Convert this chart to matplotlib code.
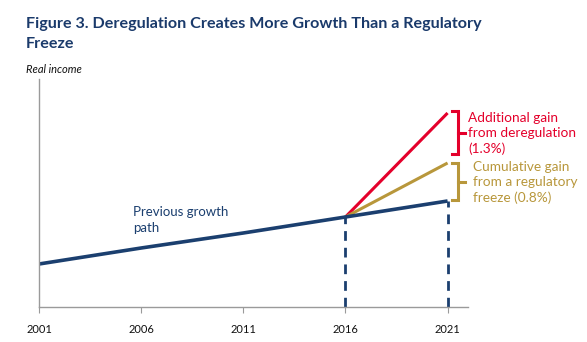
import matplotlib.pyplot as plt

plt.rcParams['font.family'] = ['Lato', 'DejaVu Sans']

# Index values (arbitrary units of real income)
years = [2001, 2006, 2011, 2016, 2021]
previous_path = [43, 59, 74, 90, 106]
freeze_years = [2016, 2021]
freeze_path = [90, 144]
dereg_years = [2016, 2021]
dereg_path = [90, 194]
tick_labels = ['2001', '2006', '2011', '2016', '2021']

navy = '#1b3f6f'
red = '#e4002b'
gold = '#b8973b'
grey = '#9a9a9a'

fig = plt.figure(figsize=(5.87, 3.42), dpi=100)
ax = fig.add_axes([39 / 587, 35 / 342, 429 / 587, 228 / 342])

ax.plot(dereg_years, dereg_path, color=red, lw=2.2, solid_capstyle='butt')
ax.plot(freeze_years, freeze_path, color=gold, lw=2.2, solid_capstyle='butt')
ax.plot(years, previous_path, color=navy, lw=2.6, solid_capstyle='butt')

# dashed drop lines
for yr, val in [(2016, previous_path[3]), (2021, previous_path[4])]:
    ax.plot([yr, yr], [0, val], color=navy, lw=2, ls=(0, (3.5, 2.5)))

ax.set_xlim(2001, 2022)
ax.set_ylim(0, 228)
ax.set_xticks(years)
ax.set_xticklabels(tick_labels, fontsize=8, color='#111111')
ax.set_yticks([])
for s in ['top', 'right']:
    ax.spines[s].set_visible(False)
for s in ['left', 'bottom']:
    ax.spines[s].set_color(grey)
    ax.spines[s].set_linewidth(1)
ax.tick_params(axis='x', direction='out', length=4, color=grey, pad=8)

# brackets
def bracket(y0, y1, color):
    x0, x1 = 2021.2, 2021.5
    ym = (y0 + y1) / 2
    ax.plot([x0, x1, x1, x0], [y1, y1, y0, y0], color=color, lw=2.2,
            clip_on=False, solid_joinstyle='miter')
    ax.plot([x1, x1 + 0.35], [ym, ym], color=color, lw=2.2, clip_on=False)

bracket(153, 196, red)
bracket(107, 144, gold)

ax.text(2022.0, 195, 'Additional gain\nfrom deregulation\n(1.3%)', color=red,
        fontsize=9.8, va='top', ha='left', linespacing=1.3, clip_on=False)
ax.text(2022.25, 146, 'Cumulative gain\nfrom a regulatory\nfreeze (0.8%)', color=gold,
        fontsize=9.8, va='top', ha='left', linespacing=1.3, clip_on=False)
ax.text(2005.6, 101, 'Previous growth\npath', color=navy, fontsize=9.5,
        va='top', ha='left', linespacing=1.45)

fig.text(26 / 587, 1 - 17 / 342, 'Figure 3. Deregulation Creates More Growth Than a Regulatory\nFreeze',
         color='#1a3a6b', fontsize=11.6, fontweight='bold', va='top', ha='left',
         linespacing=1.5)
fig.text(26 / 587, 1 - 64 / 342, 'Real income', fontsize=8, style='italic',
         color='#111111', va='top', ha='left')

fig.savefig('out.png', dpi=100)
